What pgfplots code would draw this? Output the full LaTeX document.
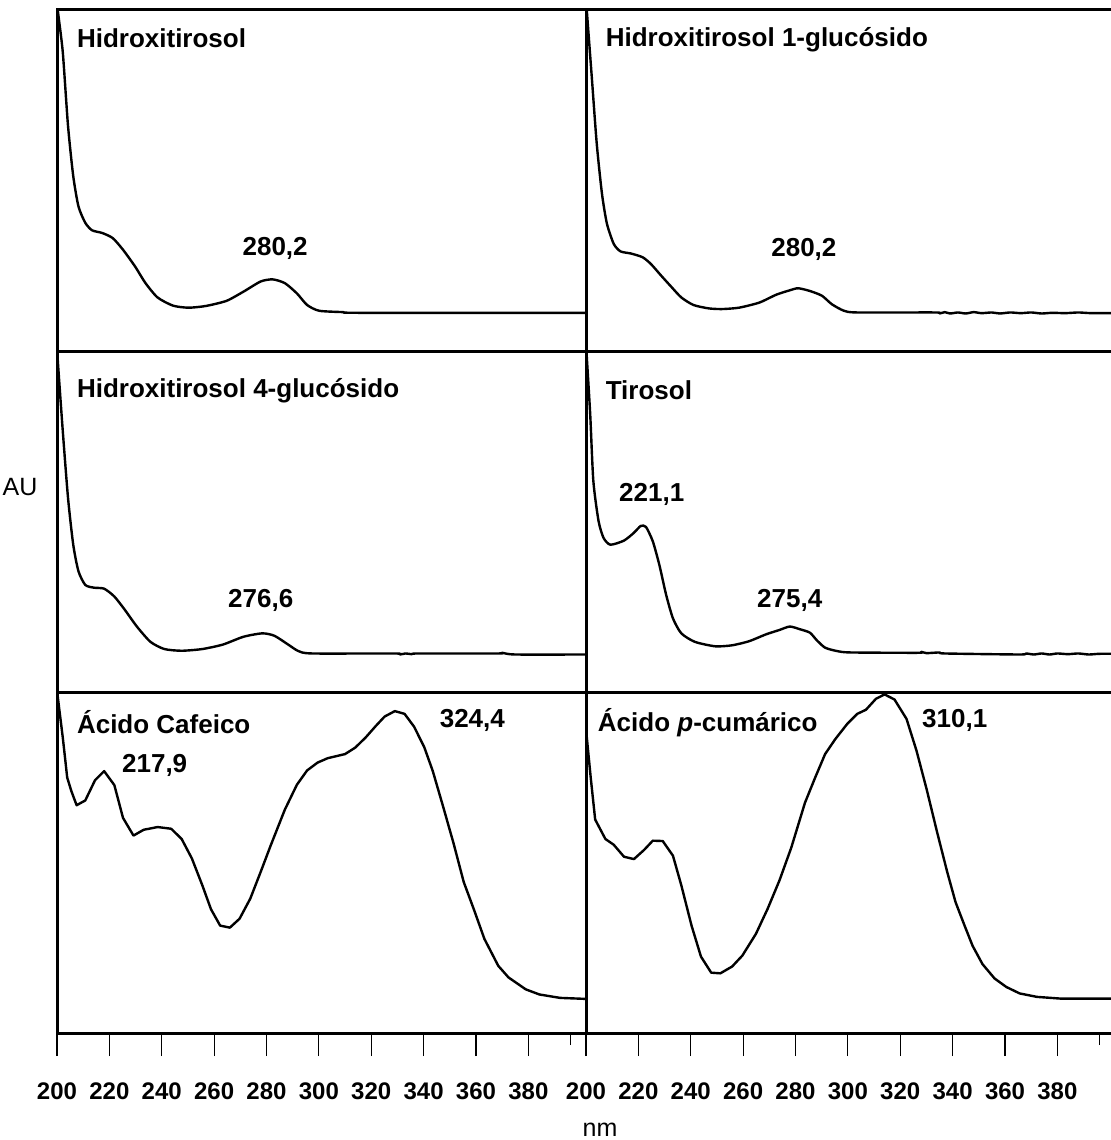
\documentclass[border=0pt]{standalone}
\usepackage{fontspec}
\setmainfont{Liberation Sans}
\usepackage{pgfplots}
\pgfplotsset{compat=1.18}
\pgfplotsset{
  panel/.style={
    scale only axis, width=264.5pt, height=170.5pt,
    xmin=200, xmax=402, ymin=0, ymax=1,
    axis line style={line width=1.5pt},
    ytick=\empty, xtick=\empty,
  },
  bottompanel/.style={
    xtick={200,220,240,260,280,300,320,340,360,380},
    xticklabels={200,220,240,260,280,300,320,340,360,380},
    tick align=outside, xtick pos=left,
    major tick length=11.5pt,
    tick style={line width=0.6pt, black},
    xticklabel style={font=\bfseries\fontsize{12}{14}\selectfont, yshift=-10pt},
    extra x ticks={396}, extra x tick labels={},
    extra x tick style={major tick length=6pt, tick style={line width=0.6pt, black}},
  },
  spec/.style={black, line width=1.2pt, no marks, line join=round},
}
\newcommand{\ttl}{\bfseries\fontsize{13}{15}\selectfont}
\begin{document}
\begin{tikzpicture}
% ---- Row 1 left: Hidroxitirosol
\begin{axis}[panel, at={(28.5pt,-5pt)}, anchor=north west]
\addplot[spec, smooth, tension=0.4] coordinates {(200.0,1.05)(200.3,1.0)(202.2,0.877)(204.2,0.661)(206.2,0.513)(208.2,0.424)(210.8,0.376)(213.4,0.354)(217.3,0.346)(221.3,0.331)(225.2,0.297)(229.8,0.248)(233.8,0.199)(238.4,0.157)(244.3,0.133)(250.2,0.127)(256.8,0.132)(264.7,0.147)(271.2,0.174)(277.8,0.204)(282.4,0.210)(287.0,0.199)(291.6,0.169)(295.5,0.135)(300.1,0.118)(309.3,0.114)(315.9,0.112)(402,0.112)};
\node[anchor=west, inner sep=0] at (axis cs:207.5,0.916) {\ttl Hidroxitirosol};
\node[inner sep=0] at (axis cs:283.3,0.302) {\ttl 280,2};
\end{axis}
% ---- Row 1 right: Hidroxitirosol 1-glucosido
\begin{axis}[panel, at={(293pt,-5pt)}, anchor=north west]
\addplot[spec, smooth, tension=0.4] coordinates {(200.0,1.05)(200.3,1.0)(202.2,0.804)(204.1,0.608)(206.1,0.461)(208.0,0.373)(210.6,0.314)(213.2,0.292)(217.1,0.286)(221.6,0.275)(224.8,0.255)(228.7,0.221)(232.6,0.188)(236.4,0.157)(241.0,0.135)(246.8,0.125)(251.9,0.123)(258.4,0.127)(266.2,0.142)(272.6,0.165)(277.8,0.178)(281.0,0.184)(285.5,0.176)(290.1,0.162)(293.9,0.137)(298.5,0.118)(303.6,0.113)(333.3,0.113)(335,0.110)(337,0.114)(339,0.110)(342,0.113)(345,0.110)(348,0.114)(351,0.111)(355,0.113)(358,0.110)(362,0.113)(366,0.111)(370,0.113)(374,0.110)(378,0.112)(383,0.111)(388,0.113)(393,0.111)(402,0.111)};
\node[anchor=west, inner sep=0] at (axis cs:207.4,0.912) {\ttl Hidroxitirosol 1-glucósido};
\node[inner sep=0] at (axis cs:283.2,0.299) {\ttl 280,2};
\end{axis}
% ---- Row 2 left: Hidroxitirosol 4-glucosido
\begin{axis}[panel, at={(28.5pt,-175.5pt)}, anchor=north west]
\addplot[spec, smooth, tension=0.4] coordinates {(200.0,1.02)(200.3,0.972)(202.2,0.766)(204.2,0.570)(206.2,0.432)(208.2,0.354)(210.8,0.314)(214.1,0.306)(218.0,0.303)(221.9,0.280)(225.9,0.241)(230.5,0.192)(235.7,0.147)(241.0,0.126)(247.6,0.121)(255.5,0.126)(263.3,0.139)(271.2,0.162)(278.4,0.172)(283.0,0.165)(288.3,0.139)(292.2,0.120)(297.5,0.113)(329,0.113)(331,0.110)(333,0.113)(335.6,0.111)(338,0.113)(368.5,0.113)(370,0.115)(375,0.110)(402,0.110)};
\node[anchor=west, inner sep=0] at (axis cs:207.5,0.884) {\ttl Hidroxitirosol 4-glucósido};
\node[inner sep=0] at (axis cs:277.8,0.270) {\ttl 276,6};
\end{axis}
% ---- Row 2 right: Tirosol
\begin{axis}[panel, at={(293pt,-175.5pt)}, anchor=north west]
\addplot[spec, smooth, tension=0.4] coordinates {(200.0,1.02)(200.3,0.982)(201.6,0.815)(202.8,0.619)(204.8,0.501)(206.7,0.452)(209.3,0.432)(214.5,0.444)(218.3,0.467)(220.9,0.487)(222.9,0.484)(225.5,0.442)(228.0,0.373)(230.6,0.285)(233.2,0.216)(236.4,0.172)(241.6,0.147)(249.4,0.134)(255.8,0.137)(262.3,0.149)(268.7,0.169)(273.9,0.182)(277.8,0.192)(281.7,0.184)(285.5,0.174)(288.1,0.152)(291.3,0.130)(295.9,0.120)(301.0,0.116)(326.9,0.115)(328,0.118)(330,0.114)(335,0.116)(337,0.113)(365.6,0.110)(368,0.113)(371,0.110)(374,0.113)(377,0.110)(380,0.113)(384,0.111)(388,0.113)(392,0.110)(396,0.112)(402,0.112)};
\node[anchor=west, inner sep=0] at (axis cs:207.4,0.884) {\ttl Tirosol};
\node[inner sep=0] at (axis cs:225.1,0.580) {\ttl 221,1};
\node[inner sep=0] at (axis cs:277.8,0.270) {\ttl 275,4};
\end{axis}
% ---- Row 3 left: Acido Cafeico
\begin{axis}[panel, bottompanel, at={(28.5pt,-346pt)}, anchor=north west]
\addplot[spec] coordinates {(200.0,1.02)(200.3,0.985)(202.2,0.867)(203.9,0.749)(205.5,0.709)(207.5,0.668)(210.8,0.682)(214.5,0.741)(218.0,0.768)(221.9,0.727)(225.2,0.631)(229.2,0.579)(233.1,0.596)(238.4,0.604)(243.6,0.599)(247.6,0.569)(251.5,0.512)(255.5,0.433)(258.8,0.363)(262.3,0.315)(266.0,0.309)(269.7,0.335)(273.8,0.394)(277.8,0.473)(281.7,0.552)(287.0,0.655)(291.6,0.728)(295.5,0.770)(299.5,0.793)(303.4,0.806)(310.0,0.818)(313.9,0.837)(317.9,0.867)(321.8,0.901)(325.1,0.928)(329.0,0.944)(332.7,0.936)(336.3,0.899)(340.2,0.839)(343.5,0.768)(347.4,0.665)(351.4,0.557)(355.3,0.443)(359.3,0.360)(363.2,0.276)(368.5,0.197)(372.4,0.163)(379.0,0.128)(384.2,0.113)(392.1,0.103)(402,0.100)};
\node[anchor=west, inner sep=0] at (axis cs:207.5,0.911) {\ttl Ácido Cafeico};
\node[inner sep=0] at (axis cs:237.3,0.786) {\ttl 217,9};
\node[inner sep=0] at (axis cs:358.6,0.916) {\ttl 324,4};
\end{axis}
% ---- Row 3 right: Acido p-cumarico
\begin{axis}[panel, bottompanel, at={(293pt,-346pt)}, anchor=north west]
\addplot[spec] coordinates {(200.0,0.95)(200.3,0.867)(201.8,0.749)(203.5,0.626)(207.4,0.569)(210.6,0.552)(214.5,0.517)(218.3,0.510)(222.2,0.537)(225.5,0.564)(229.3,0.563)(233.2,0.520)(236.4,0.433)(240.3,0.315)(243.9,0.224)(247.8,0.177)(251.3,0.175)(255.8,0.195)(259.7,0.227)(264.9,0.291)(269.4,0.365)(273.9,0.448)(278.4,0.544)(283.6,0.675)(287.5,0.749)(291.3,0.818)(295.2,0.862)(299.7,0.906)(303.6,0.936)(306.9,0.948)(310.7,0.980)(314.0,0.993)(317.8,0.978)(322.4,0.921)(326.2,0.828)(330.1,0.714)(334.0,0.591)(337.9,0.473)(341.1,0.384)(344.3,0.320)(347.6,0.256)(351.4,0.202)(356.0,0.160)(360.5,0.135)(365.6,0.116)(372.1,0.106)(381.1,0.101)(402,0.101)};
\node[anchor=west, inner sep=0] at (axis cs:204.4,0.911) {\ttl Ácido \textit{p}-cumárico};
\node[inner sep=0] at (axis cs:340.8,0.918) {\ttl 310,1};
\end{axis}
\node[font=\fontsize{12.5}{14}\selectfont] at (10pt,-243.5pt) {AU};
\node[font=\fontsize{12.5}{14}\selectfont] at (300pt,-565pt) {nm};
\pgfresetboundingbox
\path[use as bounding box] (0,0) rectangle (555.5pt,-570pt);
\end{tikzpicture}
\end{document}
